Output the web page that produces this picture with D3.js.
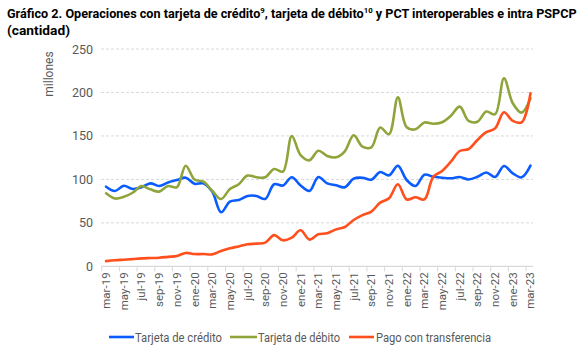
<!DOCTYPE html>
<html><head><meta charset="utf-8">
<script src="https://cdn.jsdelivr.net/npm/d3@7"></script>
<style>body{margin:0;background:#fff;} svg{display:block;font-family:Roboto, "Liberation Sans", sans-serif;}</style>
</head><body><svg id="c" width="588" height="359"></svg>
<script>
const months = ["mar-19","abr-19","may-19","jun-19","jul-19","ago-19","sep-19","oct-19","nov-19","dic-19",
"ene-20","feb-20","mar-20","abr-20","may-20","jun-20","jul-20","ago-20","sep-20","oct-20","nov-20","dic-20",
"ene-21","feb-21","mar-21","abr-21","may-21","jun-21","jul-21","ago-21","sep-21","oct-21","nov-21","dic-21",
"ene-22","feb-22","mar-22","abr-22","may-22","jun-22","jul-22","ago-22","sep-22","oct-22","nov-22","dic-22",
"ene-23","feb-23","mar-23"];
const credito = [91.6,86.7,92.8,89,91,95.5,92.4,96.6,99.3,102,95,95.5,86,62.2,74.5,76.4,81,81,77.6,94.5,93,102.5,93,86.8,
102.8,95.5,93.2,91,101,102,99.7,108.5,104.7,115.8,99.3,92.4,105.5,103,102,101.3,102.8,100,103,108,102.8,115.5,107,102.4,115.8];
const debito = [84,78,80,84.7,92.4,88.6,86,92.4,91,115.8,100,97.4,87,77.5,89,94.5,104.4,102.5,102.5,112,109,150,128,122,
133,127,125.4,132.4,150.8,137.7,137,159.6,152,194.4,160,157.7,165.5,164,165.7,173.3,183.7,167.3,166.4,178,175,216.3,187.6,176.8,193.3];
const transferencia = [6.1,7,7.7,8.4,9.2,9.6,10,11,12,15.5,14.2,14.2,13.8,17.7,20.8,23,25.4,26.2,27.3,36,30,33,41.5,30.8,
36.9,38,42.6,45.3,53.4,59,63,73.3,78.3,94.4,77,79.5,77,103,109.7,120.5,132.7,135,145.4,154.3,158.7,177.2,167.3,165.7,199];
const yTicks = [0,50,100,150,200,250];
const seriesNames = ["Tarjeta de crédito","Tarjeta de débito","Pago con transferencia"];
const colors = ["#0a5cff","#8fa53c","#ff4f1c"];

const svg = d3.select("#c");
const x = d3.scaleBand().domain(months).range([101.7, 534.9]).padding(0);
const y = d3.scaleLinear().domain([0,250]).range([266.4, 49]);
const grey = "#595959";

// title (compressed horizontally to match the condensed original)
function fitGroup(g, x0, width){
  const w = g.node().getBBox().width;
  g.attr("transform", `translate(${x0},0) scale(${width/w},1)`);
}
const t1 = svg.append("g");
const tt = t1.append("text").attr("x",0).attr("y",18).attr("font-size",13).attr("font-weight","bold").attr("fill","#000");
tt.append("tspan").text("Gráfico 2. Operaciones con tarjeta de crédito");
tt.append("tspan").attr("dy",-5).attr("font-size",8).text("9");
tt.append("tspan").attr("dy",5).text(", tarjeta de débito");
tt.append("tspan").attr("dy",-5).attr("font-size",8).text("10");
tt.append("tspan").attr("dy",5).text(" y PCT interoperables e intra PSPCP");
fitGroup(t1, 7, 570);
const t2 = svg.append("g");
t2.append("text").attr("x",0).attr("y",35).attr("font-size",13).attr("font-weight","bold").attr("fill","#000").text("(cantidad)");
fitGroup(t2, 7, 63);

// gridlines
svg.append("g").selectAll("line").data(yTicks.filter(d=>d>0)).join("line")
  .attr("x1",101).attr("x2",533).attr("y1",d=>y(d)).attr("y2",d=>y(d))
  .attr("stroke","#d9d9d9").attr("stroke-width",1).attr("stroke-dasharray","3,2");

// y axis labels
const yAxis = d3.axisLeft(y).tickValues(yTicks).tickSize(0).tickPadding(0);
const gy = svg.append("g").attr("transform","translate(93,0)").call(yAxis);
gy.select(".domain").remove();
gy.selectAll("text").attr("fill",grey).attr("font-size",12.5).attr("font-family","Roboto, sans-serif");

svg.append("text").attr("transform","translate(53,74) rotate(-90)").attr("text-anchor","middle")
  .attr("font-size",12).attr("fill",grey).text("millones");

// x axis
const tickMonths = months.filter((d,i)=>i%2===0);
const gx = svg.append("g");
gx.append("line").attr("x1",101).attr("x2",533).attr("y1",y(0)).attr("y2",y(0)).attr("stroke","#d9d9d9").attr("stroke-width",1.2);
gx.selectAll("line.t").data(tickMonths).join("line").attr("class","t")
  .attr("x1",d=>x(d)).attr("x2",d=>x(d)).attr("y1",y(0)).attr("y2",y(0)+5).attr("stroke","#d9d9d9");
gx.selectAll("text").data(tickMonths).join("text")
  .attr("transform",d=>`translate(${x(d)+x.bandwidth()/2+4},${y(0)+6}) rotate(-90)`)
  .attr("text-anchor","end").attr("font-size",11.5).attr("fill",grey).text(d=>d);

// lines
const line = d3.line().x((d,i)=>x(months[i])+x.bandwidth()/2).y(d=>y(d)).curve(d3.curveCatmullRom.alpha(0.5));
[credito,debito,transferencia].forEach((s,k)=>{
  svg.append("path").datum(s).attr("d",line).attr("fill","none").attr("stroke",colors[k])
    .attr("stroke-width",2.6).attr("stroke-linejoin","round").attr("stroke-linecap","round");
});

// legend
const leg = [{x1:109,x2:134,tx:135,w:87},{x1:230,x2:257,tx:258,w:82},{x1:349,x2:374,tx:376,w:115}];
leg.forEach((l,k)=>{
  svg.append("line").attr("x1",l.x1).attr("x2",l.x2).attr("y1",337).attr("y2",337).attr("stroke",colors[k]).attr("stroke-width",2.6);
  svg.append("text").attr("x",l.tx).attr("y",341.5).attr("font-size",12.5).attr("fill",grey)
    .attr("textLength",l.w).attr("lengthAdjust","spacingAndGlyphs").text(seriesNames[k]);
});
</script></body></html>
